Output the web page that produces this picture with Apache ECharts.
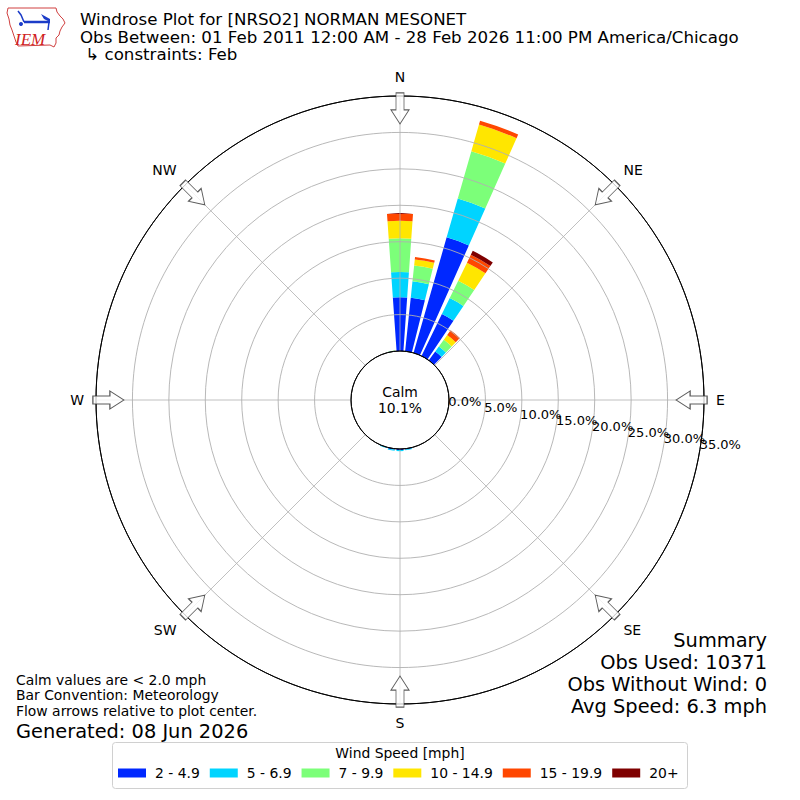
<!DOCTYPE html>
<html>
<head>
<meta charset="utf-8">
<script src="https://cdn.jsdelivr.net/npm/echarts@6/dist/echarts.min.js"></script>
<style>
html,body{margin:0;padding:0;background:#fff;}
#chart{width:800px;height:800px;}
</style>
</head>
<body>
<div id="chart"></div>
<script>
// ---- data ----
const directions = ['0','10','20','30','40','50','60','70','80','90','100','110','120','130','140','150','160','170',
                    '180','190','200','210','220','230','240','250','260','270','280','290','300','310','320','330','340','350'];
const speedBins = ['2 - 4.9','5 - 6.9','7 - 9.9','10 - 14.9','15 - 19.9','20+'];
const binColors = ['#0028ff','#00d4ff','#7cff79','#ffe600','#ff4700','#7f0000'];
//                0     10    20    30    40  50 60 70 80 90 100 110 120 130 140 150 160 170   180   190   200  210 220 230 240 250 260 270 280 290 300 310 320 330 340 350
const bin2to5   = [7.37, 7.40, 16.5, 6.40, 1.50, 0, 0, 0, 0, 0, 0, 0, 0, 0, 0, 0, 0, 0.10, 0.15, 0.12, 0.05, 0, 0, 0, 0, 0, 0, 0, 0, 0, 0, 0, 0, 0, 0, 0.03];
const bin5to7   = [3.47, 2.25, 5.55, 2.45, 0.85, 0, 0, 0, 0, 0, 0, 0, 0, 0, 0, 0, 0, 0.12, 0.15, 0.15, 0.08, 0, 0, 0, 0, 0, 0, 0, 0, 0, 0, 0, 0, 0, 0, 0.02];
const bin7to10  = [4.63, 2.20, 6.75, 2.65, 1.15, 0, 0, 0, 0, 0, 0, 0, 0, 0, 0, 0, 0, 0, 0, 0, 0, 0, 0, 0, 0, 0, 0, 0, 0, 0, 0, 0, 0, 0, 0, 0.05];
const bin10to15 = [2.40, 0.83, 3.80, 2.75, 0.80, 0, 0, 0, 0, 0, 0, 0, 0, 0, 0, 0, 0, 0, 0, 0, 0, 0, 0, 0, 0, 0, 0, 0, 0, 0, 0, 0, 0, 0, 0, 0];
const bin15to20 = [1.00, 0.32, 0.55, 1.20, 0.80, 0, 0, 0, 0, 0, 0, 0, 0, 0, 0, 0, 0, 0, 0, 0, 0, 0, 0, 0, 0, 0, 0, 0, 0, 0, 0, 0, 0, 0, 0, 0];
const bin20plus = [0, 0, 0, 0.60, 0, 0, 0, 0, 0, 0, 0, 0, 0, 0, 0, 0, 0, 0, 0, 0, 0, 0, 0, 0, 0, 0, 0, 0, 0, 0, 0, 0, 0, 0, 0, 0];
const binData = [bin2to5, bin5to7, bin7to10, bin10to15, bin15to20, bin20plus];
const compassAngles = [0, 45, 90, 135, 180, 225, 270, 315];
const compassNames  = ['N','NE','E','SE','S','SW','W','NW'];
const radialTicks = [0, 5, 10, 15, 20, 25, 30, 35];
const calmPct = 10.1;
const obsUsed = 10371;
const obsWithoutWind = 0;
const avgSpeed = 6.3;
const titleLines = [
  'Windrose Plot for [NRSO2] NORMAN MESONET',
  'Obs Between: 01 Feb 2011 12:00 AM - 28 Feb 2026 11:00 PM America/Chicago',
  ' \u21b3 constraints: Feb'
];
const noteLines = ['Calm values are < 2.0 mph', 'Bar Convention: Meteorology', 'Flow arrows relative to plot center.'];
const generatedText = 'Generated: 08 Jun 2026';

// ---- chart ----
const FONT = '"DejaVu Sans", sans-serif';
const chart = echarts.init(document.getElementById('chart'), null, {renderer: 'svg', width: 800, height: 800});
const rMax = radialTicks[radialTicks.length - 1];
const rStep = radialTicks[1] - radialTicks[0];
const polarCommon = {center: [400, 400], radius: [49, 304]};
const arrowPath = 'path://M-4,0 L4,0 L4,17 L9,17 L0,31 L-9,17 L-4,17 Z';

const gridColors = radialTicks.map((t, i) => (i === 0 || i === radialTicks.length - 1) ? '#000' : '#b0b0b0');
const pctFmt = v => v.toFixed(1) + '%';
const hiddenAngle = (idx, start) => ({polarIndex: idx, type: 'value', min: 0, max: 360, startAngle: start, clockwise: true,
  axisLine: {show: false}, axisTick: {show: false}, axisLabel: {show: false}, splitLine: {show: false}});
const labelStyle = {show: true, interval: 0, hideOverlap: false, margin: 0, align: 'left', verticalAlign: 'bottom',
  fontSize: 13, color: '#000', fontFamily: FONT};

const series = speedBins.map((name, i) => ({
  name: name,
  type: 'bar',
  coordinateSystem: 'polar',
  polarIndex: 0,
  stack: 'wind',
  barWidth: '80%',
  data: binData[i],
  itemStyle: {color: binColors[i]},
  emphasis: {disabled: true},
  silent: true,
  z: 2
}));
series.push({
  name: 'arrows',
  type: 'scatter',
  coordinateSystem: 'polar',
  polarIndex: 1,
  symbol: arrowPath,
  symbolSize: [18, 31],
  data: compassAngles.map(a => ({value: [33.3, a], symbolRotate: -a})),
  itemStyle: {color: '#fff', borderColor: '#333', borderWidth: 1},
  silent: true,
  z: 10
});

const option = {
  backgroundColor: '#fff',
  animation: false,
  textStyle: {fontFamily: FONT},
  polar: [polarCommon, polarCommon, polarCommon, polarCommon],
  angleAxis: [
    {polarIndex: 0, type: 'category', data: directions, startAngle: 95, clockwise: true,
     axisLine: {show: false}, axisTick: {show: false}, axisLabel: {show: false}, splitLine: {show: false}},
    {polarIndex: 1, type: 'value', min: 0, max: 360, interval: 45, startAngle: 90, clockwise: true, z: 5,
     axisLine: {show: true, lineStyle: {color: '#000', width: 1}},
     axisTick: {show: false},
     axisLabel: {show: true, margin: 12, fontSize: 14, color: '#000', fontFamily: FONT,
       formatter: v => { const k = compassAngles.indexOf(v); return k >= 0 ? compassNames[k] : ''; }},
     splitLine: {show: true, lineStyle: {color: '#b0b0b0', width: 0.8}}},
    hiddenAngle(2, -9.7),
    hiddenAngle(3, -9.7)
  ],
  radiusAxis: [
    {polarIndex: 0, type: 'value', min: 0, max: rMax,
     axisLine: {show: false}, axisTick: {show: false}, axisLabel: {show: false}, splitLine: {show: false}},
    {polarIndex: 1, type: 'value', min: 0, max: rMax, interval: rStep, z: 5,
     axisLine: {show: false}, axisTick: {show: false}, axisLabel: {show: false},
     splitLine: {show: true, lineStyle: {color: gridColors, width: 0.9}}},
    // tick labels 0.0% .. 30.0%
    {polarIndex: 2, type: 'value', min: 0, max: rMax, interval: rStep, z: 6,
     axisLine: {show: false}, axisTick: {show: false}, splitLine: {show: false},
     axisLabel: Object.assign({}, labelStyle, {showMinLabel: true, showMaxLabel: false, formatter: pctFmt})},
    // tick label 35.0% (drawn separately so it may overlap 30.0% as in the reference)
    {polarIndex: 3, type: 'value', min: 0, max: rMax, interval: rMax, z: 6,
     axisLine: {show: false}, axisTick: {show: false}, splitLine: {show: false},
     axisLabel: Object.assign({}, labelStyle, {showMinLabel: false, showMaxLabel: true,
       formatter: v => v === rMax ? pctFmt(v) : ''})}
  ],
  legend: {
    data: speedBins,
    orient: 'horizontal',
    left: 118,
    top: 766,
    padding: 0,
    itemWidth: 28,
    itemHeight: 9,
    itemGap: 10,
    icon: 'rect',
    selectedMode: false,
    textStyle: {fontSize: 13.9, color: '#000', fontFamily: FONT, padding: [0, 0, 0, 4]}
  },
  graphic: [
    {type: 'rect', z: -1, shape: {x: 112.5, y: 742.5, width: 575, height: 46, r: 3},
     style: {fill: '#fff', stroke: '#d0d0d0', lineWidth: 1}},
    {type: 'text', z: 10, style: {text: 'Wind Speed [mph]', x: 400, y: 753, textAlign: 'center', textVerticalAlign: 'middle',
     font: '13.9px ' + FONT, fill: '#000'}},
    {type: 'text', z: 10, style: {text: titleLines.join('\n'), x: 80, y: 11, textAlign: 'left', textVerticalAlign: 'top',
     font: '16.65px ' + FONT, lineHeight: 17.5, fill: '#000'}},
    {type: 'text', z: 10, style: {text: 'Calm\n' + calmPct.toFixed(1) + '%', x: 400, y: 400, textAlign: 'center',
     textVerticalAlign: 'middle', font: '13.9px ' + FONT, lineHeight: 16, fill: '#000'}},
    {type: 'text', z: 10, style: {text: ['Summary', 'Obs Used: ' + obsUsed, 'Obs Without Wind: ' + obsWithoutWind,
       'Avg Speed: ' + avgSpeed.toFixed(1) + ' mph'].join('\n'), x: 767, y: 629, textAlign: 'right', textVerticalAlign: 'top',
     font: '19.4px ' + FONT, lineHeight: 22, fill: '#000'}},
    {type: 'text', z: 10, style: {text: noteLines.join('\n'), x: 16, y: 672, textAlign: 'left', textVerticalAlign: 'top',
     font: '13.9px ' + FONT, lineHeight: 15.6, fill: '#000'}},
    {type: 'text', z: 10, style: {text: generatedText, x: 16, y: 731, textAlign: 'left', textVerticalAlign: 'middle',
     font: '19.4px ' + FONT, lineHeight: 19, fill: '#000'}},
    // IEM logo (decorative)
    {type: 'polygon', z: 10, shape: {points: [[8,8],[56,8],[57,12],[60,16],[63,19],[65,23],[62,27],[60,31],[59,35],[56,38],[56,43],[54,47],[50,45],[18,46],[16,42],[14,36],[12,30],[10,25],[9,19],[7,13]]},
     style: {fill: 'none', stroke: '#d04040', lineWidth: 1}},
    {type: 'line', z: 10, shape: {x1: 24, y1: 22, x2: 50, y2: 22}, style: {stroke: '#1c3cc8', lineWidth: 2.5}},
    {type: 'polyline', z: 10, shape: {points: [[18,11],[21,15],[24,22]]}, style: {stroke: '#1c3cc8', lineWidth: 1.5, fill: 'none'}},
    {type: 'polygon', z: 10, shape: {points: [[41,14],[50,19],[50,22],[44,19]]}, style: {fill: '#1c3cc8'}},
    {type: 'circle', z: 10, shape: {cx: 21, cy: 24, r: 2}, style: {fill: '#1c3cc8'}},
    {type: 'line', z: 10, shape: {x1: 49, y1: 22, x2: 48, y2: 30}, style: {stroke: '#1c3cc8', lineWidth: 1.5}},
    {type: 'text', z: 10, style: {text: 'IEM', x: 15, y: 39, textAlign: 'left', textVerticalAlign: 'middle',
     font: 'italic 17px "Liberation Serif", serif', fill: '#d02020'}}
  ],
  series: series
};
chart.setOption(option);
</script>
</body>
</html>
